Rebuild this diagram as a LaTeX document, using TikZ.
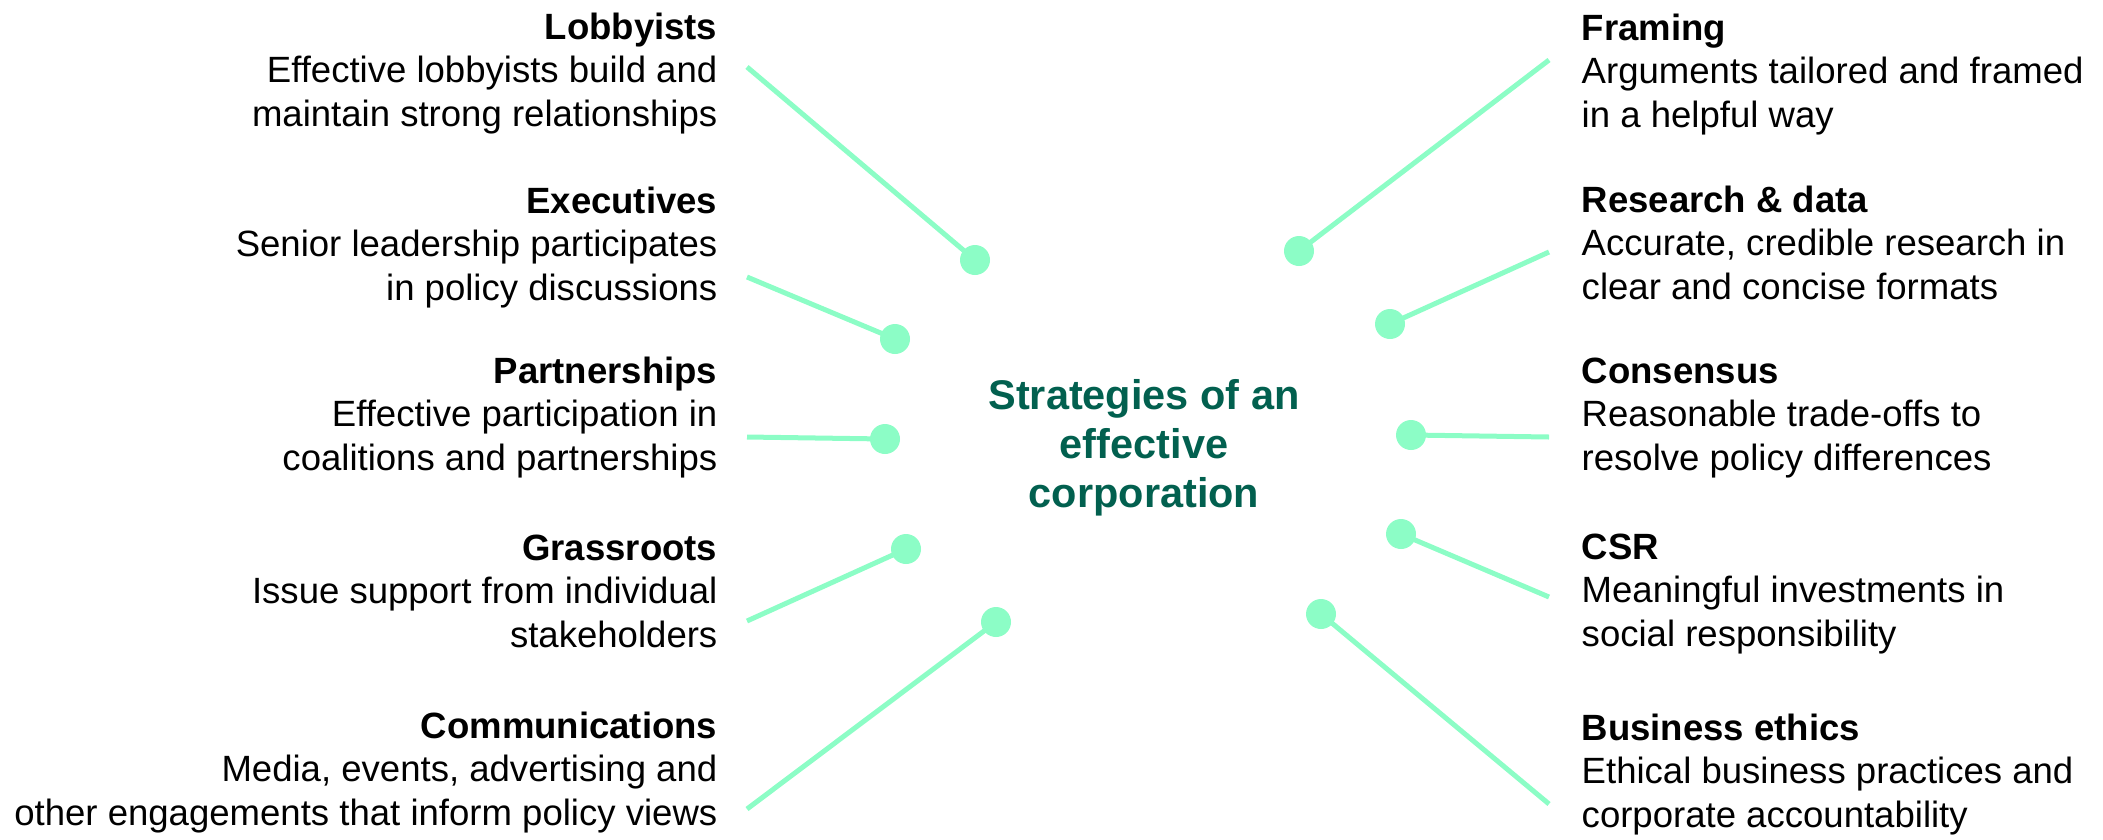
\documentclass[tikz,border=0pt]{standalone}
\usepackage{fontspec}
\setmainfont{Liberation Sans}
\usepackage{xcolor}
\usetikzlibrary{calc, backgrounds}
\definecolor{mint}{HTML}{8CFDC6}
\definecolor{pine}{HTML}{02604F}
\tikzset{
	lefttext/.style={anchor=north east, align=right, inner sep=0pt, font=\fontsize{10.4}{12.4}\selectfont},
	righttext/.style={anchor=north west, align=left, inner sep=0pt, font=\fontsize{10.4}{12.4}\selectfont},
	dot/.style={circle, fill=mint, inner sep=0pt, minimum size=3mm},
	spoke/.style={draw=mint, line width=0.5mm}
}

\begin{document}
\begin{tikzpicture}[x=0.1mm, y=-0.1mm]
		\useasboundingbox (0,0) rectangle (2103,839);
		
		\node(hub) [align=center, text=pine, inner sep=0pt, font=\fontsize{11.8}{13.9}\selectfont\bfseries] at (1144,448) {Strategies of an\\effective\\corporation};
		
		% left side
		\node(lobby) [lefttext] at (718,12) {\textbf{Lobbyists}\\Effective lobbyists build and\\maintain strong relationships};
		\node(exec) [lefttext] at (718,186) {\textbf{Executives}\\Senior leadership participates\\in policy discussions};
		\node(partner) [lefttext] at (718,356) {\textbf{Partnerships}\\Effective participation in\\coalitions and partnerships};
		\node(grass) [lefttext] at (718,534) {\textbf{Grassroots}\\Issue support from individual\\stakeholders};
		\node(comm) [lefttext] at (718,711) {\textbf{Communications}\\Media, events, advertising and\\other engagements that inform policy views};
		
		% right side
		\node(framing) [righttext] at (1581,13) {\textbf{Framing}\\Arguments tailored and framed\\in a helpful way};
		\node(research) [righttext] at (1581,185) {\textbf{Research \& data}\\Accurate, credible research in\\clear and concise formats};
		\node(consensus) [righttext] at (1581,357) {\textbf{Consensus}\\Reasonable trade-offs to\\resolve policy differences};
		\node(csr) [righttext] at (1581,533) {\textbf{CSR}\\Meaningful investments in\\social responsibility};
		\node(ethics) [righttext] at (1581,713) {\textbf{Business ethics}\\Ethical business practices and\\corporate accountability};
		
		% dots
		\node(dlobby) [dot] at (975,260) {};
		\node(dexec) [dot] at (895,339) {};
		\node(dpartner) [dot] at (885,439) {};
		\node(dgrass) [dot] at (906,549) {};
		\node(dcomm) [dot] at (996,622) {};
		\node(dframing) [dot] at (1299,251) {};
		\node(dresearch) [dot] at (1390,324) {};
		\node(dconsensus) [dot] at (1411,435) {};
		\node(dcsr) [dot] at (1401,534) {};
		\node(dethics) [dot] at (1321,614) {};
		
		\coordinate(elobby) at (747,67);
		\coordinate(eexec) at (747,277);
		\coordinate(epartner) at (747,437);
		\coordinate(egrass) at (747,621);
		\coordinate(ecomm) at (747,809);
		\coordinate(eframing) at (1549,60);
		\coordinate(eresearch) at (1549,252);
		\coordinate(econsensus) at (1549,437);
		\coordinate(ecsr) at (1549,597);
		\coordinate(eethics) at (1549,804);
		
		\begin{scope}[on background layer]
		\draw[spoke] (elobby) -- (dlobby.center);
		\draw[spoke] (eexec) -- (dexec.center);
		\draw[spoke] (epartner) -- (dpartner.center);
		\draw[spoke] (egrass) -- (dgrass.center);
		\draw[spoke] (ecomm) -- (dcomm.center);
		\draw[spoke] (eframing) -- (dframing.center);
		\draw[spoke] (eresearch) -- (dresearch.center);
		\draw[spoke] (econsensus) -- (dconsensus.center);
		\draw[spoke] (ecsr) -- (dcsr.center);
		\draw[spoke] (eethics) -- (dethics.center);
		\end{scope}
		\end{tikzpicture}
\end{document}
